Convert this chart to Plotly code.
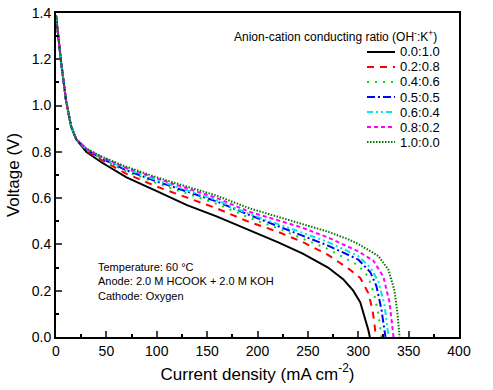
import plotly.graph_objects as go

labels = ["0.0:1.0", "0.2:0.8", "0.4:0.6", "0.5:0.5", "0.6:0.4", "0.8:0.2", "1.0:0.0"]

head_x = [0, 2, 5, 10, 15, 20]
head_v = [1.39, 1.30, 1.19, 1.02, 0.91, 0.855]

x_00 = head_x + [30, 45, 70, 100, 130, 160, 190, 220, 245, 270, 285, 295, 302, 307, 310, 311.5]
v_00 = head_v + [0.80, 0.755, 0.69, 0.63, 0.57, 0.52, 0.465, 0.41, 0.36, 0.30, 0.25, 0.20, 0.15, 0.08, 0.03, 0.0]

x_02 = head_x + [30, 45, 70, 100, 118, 130, 160, 190, 220, 245, 270, 292, 302, 310, 314, 316, 317.5]
v_02 = head_v + [0.805, 0.765, 0.705, 0.65, 0.621, 0.60, 0.555, 0.50, 0.455, 0.41, 0.355, 0.29, 0.255, 0.19, 0.12, 0.06, 0.0]

x_04 = head_x + [30, 45, 70, 100, 130, 160, 192, 220, 242, 270, 300, 310, 316, 320, 323]
v_04 = head_v + [0.81, 0.77, 0.715, 0.665, 0.62, 0.575, 0.515, 0.47, 0.43, 0.38, 0.31, 0.26, 0.18, 0.10, 0.0]

x_05 = head_x + [30, 45, 70, 100, 130, 160, 192, 220, 242, 270, 300, 312, 318, 323, 327]
v_05 = head_v + [0.81, 0.772, 0.72, 0.672, 0.63, 0.585, 0.527, 0.48, 0.44, 0.395, 0.335, 0.28, 0.22, 0.12, 0.0]

x_06 = head_x + [30, 45, 70, 100, 130, 160, 192, 220, 242, 270, 300, 312, 320, 326, 330]
v_06 = head_v + [0.812, 0.775, 0.725, 0.678, 0.635, 0.59, 0.531, 0.49, 0.455, 0.41, 0.35, 0.30, 0.24, 0.14, 0.0]

x_08 = head_x + [30, 45, 70, 100, 130, 160, 192, 220, 242, 270, 300, 315, 325, 331, 335]
v_08 = head_v + [0.813, 0.778, 0.73, 0.685, 0.643, 0.60, 0.541, 0.505, 0.476, 0.43, 0.37, 0.33, 0.26, 0.15, 0.0]

x_10 = head_x + [30, 45, 70, 100, 130, 160, 192, 220, 242, 270, 292, 302, 320, 330, 336, 339, 341]
v_10 = head_v + [0.815, 0.78, 0.735, 0.69, 0.65, 0.61, 0.556, 0.52, 0.491, 0.455, 0.419, 0.397, 0.35, 0.29, 0.20, 0.10, 0.0]

series_x = [x_00, x_02, x_04, x_05, x_06, x_08, x_10]
series_v = [v_00, v_02, v_04, v_05, v_06, v_08, v_10]

colors = ["#000000", "#ff0000", "#00e000", "#0000ff", "#00e5e5", "#ff00ff", "#007a00"]
dashes = ["solid", "7px,6px", "2px,6px", "8px,3px,2px,3px", "6px,3px,2px,3px,2px,3px", "4px,3px", "1.5px,1.5px"]

font_family = "Liberation Sans, Arial, sans-serif"

W, H = 493, 390
ML, MR, MT, MB = 56, 34, 13, 53
PW, PH = W - ML - MR, H - MT - MB


def px_to_paper(px, py):
    return (px - ML) / PW, (H - MB - py) / PH


fig = go.Figure()
for lab, xs, vs, c, d in zip(labels, series_x, series_v, colors, dashes):
    fig.add_trace(go.Scatter(x=xs, y=vs, mode="lines", name=lab, showlegend=False,
                             line=dict(color=c, width=2, dash=d)))

# manual legend (samples + labels)
for i, (lab, c, d) in enumerate(zip(labels, colors, dashes)):
    py = 52 + 15 * i
    x0, y0 = px_to_paper(367, py)
    x1, _ = px_to_paper(395, py)
    fig.add_shape(type="line", xref="paper", yref="paper", x0=x0, x1=x1, y0=y0, y1=y0,
                  line=dict(color=c, width=2, dash=d))
    tx, _ = px_to_paper(398, py)
    fig.add_annotation(xref="paper", yref="paper", x=tx, y=y0, xanchor="left", yanchor="middle",
                       text=lab, showarrow=False, font=dict(size=13))

tx, ty = px_to_paper(439, 36)
fig.add_annotation(xref="paper", yref="paper", x=tx, y=ty, xanchor="right", yanchor="middle",
                   text="Anion-cation conducting ratio (OH<sup>-</sup>:K<sup>+</sup>)",
                   showarrow=False, font=dict(size=12))

tx, ty = px_to_paper(96, 259)
fig.add_annotation(xref="paper", yref="paper", x=tx, y=ty, xanchor="left", yanchor="top",
                   text="Temperature: 60 °C<br>Anode: 2.0 M HCOOK + 2.0 M KOH<br>Cathode: Oxygen",
                   align="left", showarrow=False, font=dict(size=11))

fig.update_layout(
    width=W, height=H,
    margin=dict(l=ML, r=MR, t=MT, b=MB),
    plot_bgcolor="white", paper_bgcolor="white",
    font=dict(family=font_family, color="black"),
    showlegend=False,
    xaxis=dict(range=[0, 400], dtick=50, tick0=0, ticks="inside", ticklen=6, tickwidth=1.5,
               showline=True, linecolor="black", linewidth=1.8, mirror=True,
               showgrid=False, zeroline=False, automargin=False,
               tickfont=dict(size=14),
               minor=dict(ticks="inside", ticklen=3, dtick=25, tickwidth=1.5, tickcolor="black"),
               title=dict(text="Current density (mA cm<sup>-2</sup>)", font=dict(size=17), standoff=10)),
    yaxis=dict(range=[0, 1.4], dtick=0.2, tick0=0, ticks="inside", ticklen=6, tickwidth=1.5,
               tickformat=".1f",
               showline=True, linecolor="black", linewidth=1.8, mirror=True,
               showgrid=False, zeroline=False, automargin=False,
               tickfont=dict(size=14),
               minor=dict(ticks="inside", ticklen=3, dtick=0.1, tickwidth=1.5, tickcolor="black"),
               title=dict(text="Voltage (V)", font=dict(size=17), standoff=8)),
)

fig.write_html("out.html", config={"displayModeBar": False},
               post_script="document.body.style.margin='0';document.body.style.padding='0';")
